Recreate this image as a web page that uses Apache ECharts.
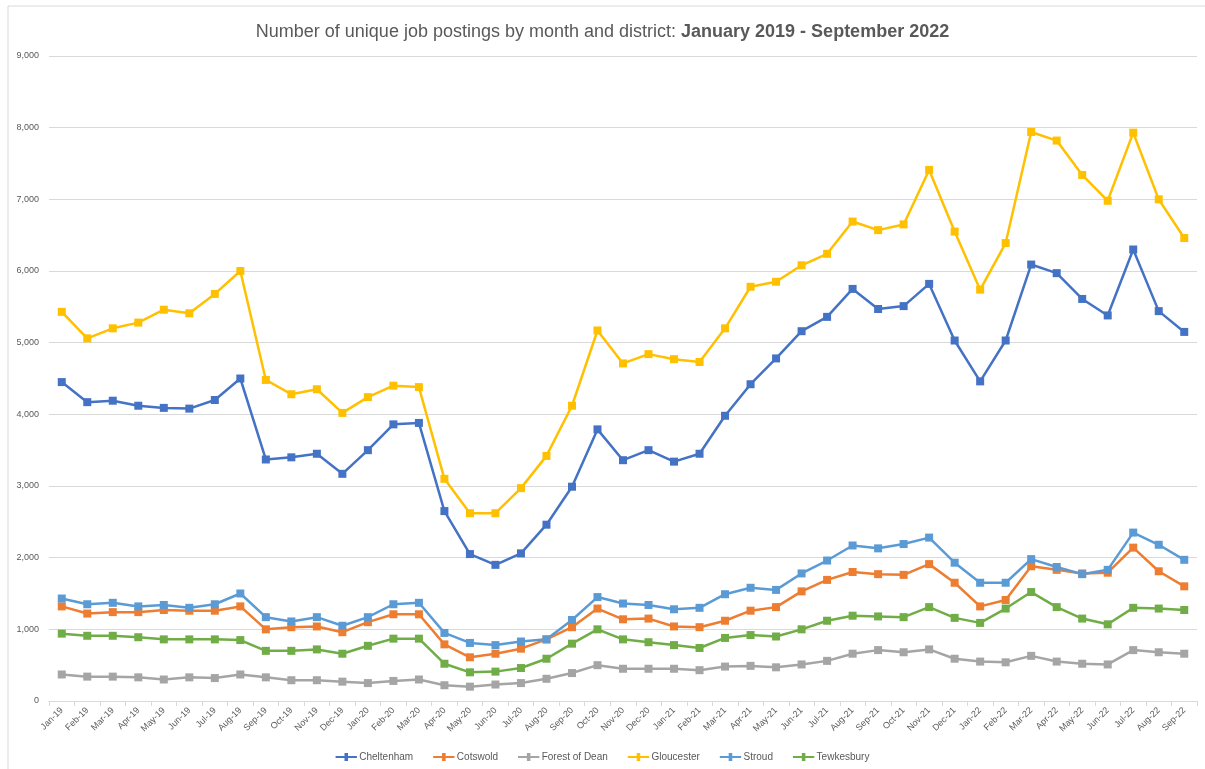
<!DOCTYPE html>
<html>
<head>
<meta charset="utf-8">
<script src="https://cdn.jsdelivr.net/npm/echarts@6/dist/echarts.min.js"></script>
<style>
  html, body { margin: 0; padding: 0; background: #fff; }
  #main { width: 1205px; height: 769px; }
</style>
</head>
<body>
<div id="main"></div>
<script>
// months Jan-19 .. Sep-22
var months = ['Jan-19','Feb-19','Mar-19','Apr-19','May-19','Jun-19','Jul-19','Aug-19','Sep-19','Oct-19','Nov-19','Dec-19',
  'Jan-20','Feb-20','Mar-20','Apr-20','May-20','Jun-20','Jul-20','Aug-20','Sep-20','Oct-20','Nov-20','Dec-20',
  'Jan-21','Feb-21','Mar-21','Apr-21','May-21','Jun-21','Jul-21','Aug-21','Sep-21','Oct-21','Nov-21','Dec-21',
  'Jan-22','Feb-22','Mar-22','Apr-22','May-22','Jun-22','Jul-22','Aug-22','Sep-22'];

var cheltenham = [4450,4170,4190,4120,4090,4080,4200,4500,3370,3400,3450,3170,
  3500,3860,3880,2650,2050,1900,2060,2460,2990,3790,3360,3500,
  3340,3450,3980,4420,4780,5160,5360,5750,5470,5510,5820,5030,
  4460,5030,6090,5970,5610,5380,6300,5440,5150];
var cotswold = [1320,1220,1240,1240,1270,1260,1260,1320,1000,1030,1040,960,
  1100,1210,1210,790,610,660,730,860,1030,1290,1140,1150,
  1040,1030,1120,1260,1310,1530,1690,1800,1770,1760,1910,1650,
  1320,1410,1880,1830,1780,1790,2140,1810,1600];
var forestOfDean = [370,340,340,330,300,330,320,370,330,290,290,270,
  250,280,300,220,200,230,250,310,390,500,450,450,
  450,430,480,490,470,510,560,660,710,680,720,590,
  550,540,630,550,520,510,710,680,660];
var gloucester = [5430,5060,5200,5280,5460,5410,5680,6000,4480,4280,4350,4020,
  4240,4400,4380,3100,2620,2620,2970,3420,4120,5170,4710,4840,
  4770,4730,5200,5780,5850,6080,6240,6690,6570,6650,7410,6550,
  5740,6390,7940,7820,7340,6980,7930,7000,6460];
var stroud = [1430,1350,1370,1320,1340,1300,1350,1500,1170,1110,1170,1050,
  1170,1350,1370,950,810,780,830,860,1130,1450,1360,1340,
  1280,1300,1490,1580,1550,1780,1960,2170,2130,2190,2280,1930,
  1650,1650,1980,1870,1770,1830,2350,2180,1970];
var tewkesbury = [940,910,910,890,860,860,860,850,700,700,720,660,
  770,870,870,520,400,410,460,590,800,1000,860,820,
  780,740,880,920,900,1000,1120,1190,1180,1170,1310,1160,
  1090,1290,1520,1310,1150,1070,1300,1290,1270];

var seriesNames = ['Cheltenham','Cotswold','Forest of Dean','Gloucester','Stroud','Tewkesbury'];
var seriesData = [cheltenham, cotswold, forestOfDean, gloucester, stroud, tewkesbury];
var colors = ['#4472C4','#ED7D31','#A5A5A5','#FFC000','#5B9BD5','#70AD47'];

var chart = echarts.init(document.getElementById('main'));

var series = seriesNames.map(function (name, i) {
  return {
    name: name,
    type: 'line',
    data: seriesData[i],
    symbol: 'rect',
    symbolSize: 8,
    lineStyle: { width: 2.5 },
    itemStyle: { color: colors[i] },
    emphasis: { disabled: true }
  };
});

chart.setOption({
  animation: false,
  color: colors,
  textStyle: { fontFamily: 'Liberation Sans' },
  graphic: [{
    type: 'rect',
    shape: { x: 8, y: 6, width: 1210, height: 780 },
    style: { fill: 'none', stroke: '#d9d9d9', lineWidth: 1 }
  }],
  title: {
    text: '{n|Number of unique job postings by month and district: }{b|January 2019 - September 2022}',
    left: 'center',
    top: 18,
    textStyle: {
      fontWeight: 'normal',
      rich: {
        n: { fontSize: 18, color: '#595959', fontWeight: 'normal', fontFamily: 'Liberation Sans' },
        b: { fontSize: 18, color: '#595959', fontWeight: 'bold', fontFamily: 'Liberation Sans' }
      }
    }
  },
  legend: {
    bottom: 2,
    left: 'center',
    itemWidth: 22,
    itemHeight: 8,
    itemGap: 20,
    icon: 'path://M0,3.5 L10,3.5 L10,0 L14,0 L14,3.5 L24,3.5 L24,5.5 L14,5.5 L14,9 L10,9 L10,5.5 L0,5.5 Z',
    textStyle: { fontSize: 10, color: '#595959', padding: [0, 0, 0, -3] },
    data: seriesNames
  },
  grid: { left: 49, right: 8, top: 56, bottom: 68, containLabel: false },
  xAxis: {
    type: 'category',
    data: months,
    boundaryGap: true,
    axisLine: { lineStyle: { color: '#d9d9d9' } },
    axisTick: { show: true, alignWithLabel: false, lineStyle: { color: '#d9d9d9' } },
    axisLabel: { rotate: 45, fontSize: 9, color: '#595959', interval: 0, margin: 8 }
  },
  yAxis: {
    type: 'value',
    min: 0,
    max: 9000,
    interval: 1000,
    axisLine: { show: false },
    axisTick: { show: false },
    splitLine: { lineStyle: { color: '#d9d9d9', width: 1 } },
    axisLabel: {
      fontSize: 9,
      color: '#595959',
      margin: 10,
      formatter: function (v) { return v === 0 ? '0' : v.toLocaleString('en-US'); }
    }
  },
  series: series
});
</script>
</body>
</html>
